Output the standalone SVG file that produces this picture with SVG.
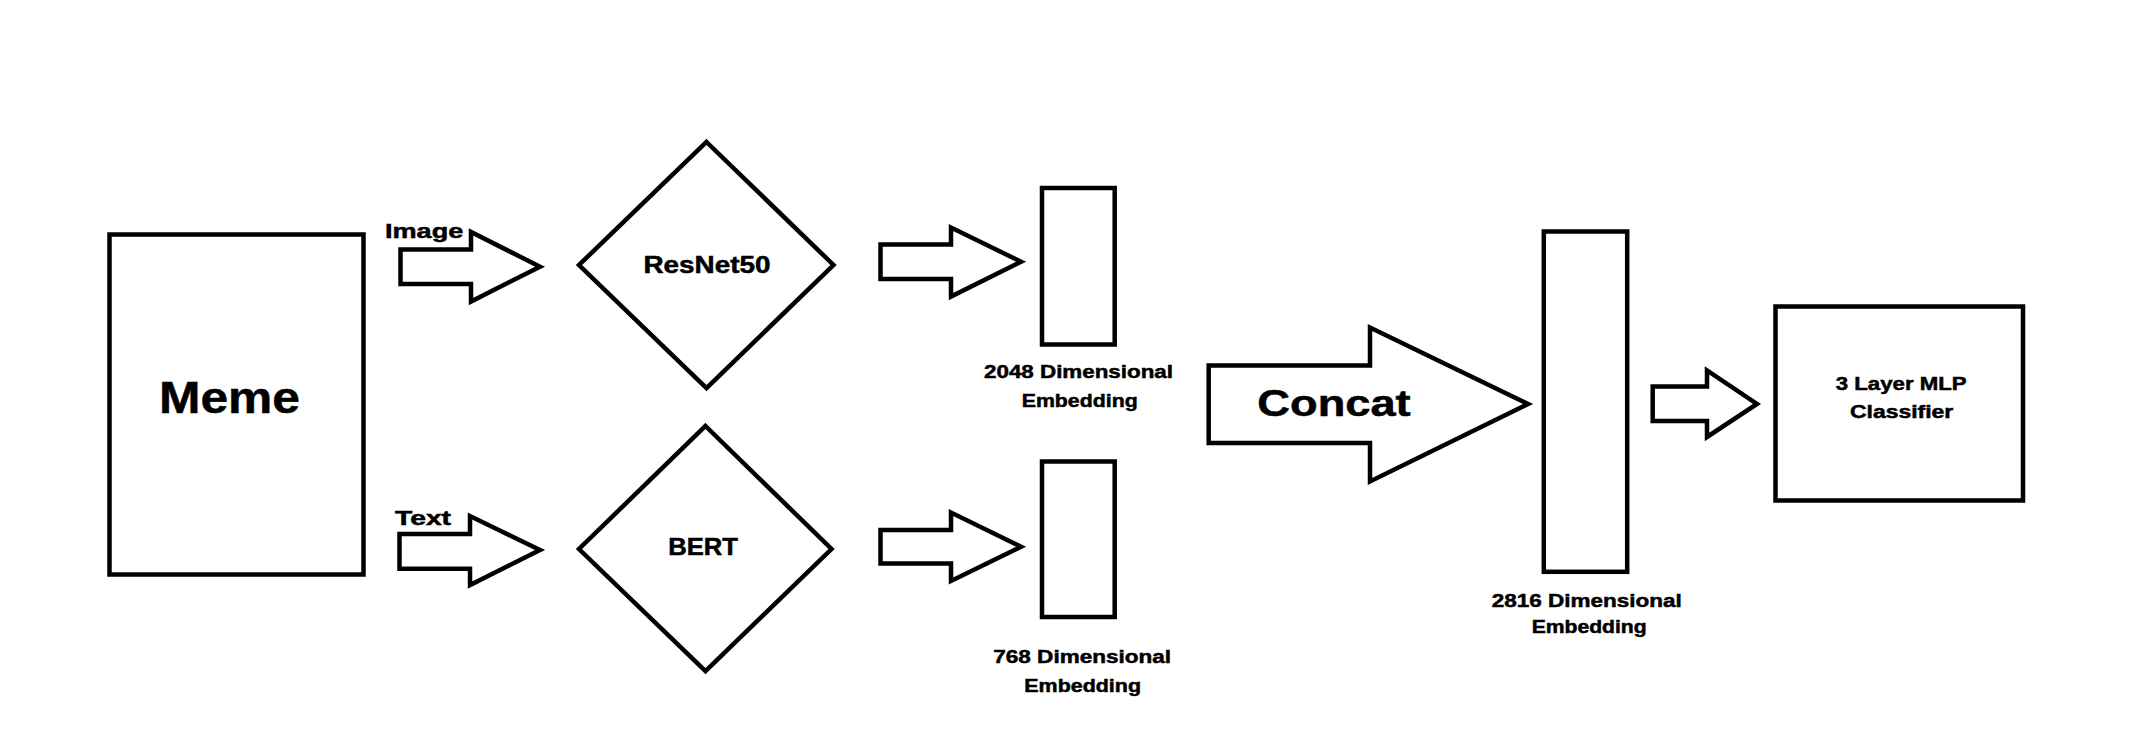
<svg xmlns="http://www.w3.org/2000/svg" width="2140" height="731" viewBox="0 0 2140 731">
<style>
.s{fill:#fff;stroke:#000;stroke-width:4.5;stroke-linejoin:miter}
.t{font-family:"Liberation Sans",Arial,sans-serif;font-weight:bold;fill:#000;stroke:#000;stroke-width:0.5;text-anchor:start}
</style>
<rect x="0" y="0" width="2140" height="731" fill="#fff"/>
<g id="meme">
<rect class="s" x="109.5" y="234.5" width="254" height="340"/>
<text class="t" x="159" y="413.3" font-size="45" textLength="141" lengthAdjust="spacingAndGlyphs">Meme</text>
</g>
<g id="resnet">
<polygon class="s" points="706.5,142 833.5,265 706.5,388 579,265"/>
<text class="t" x="643.5" y="273.3" font-size="23" textLength="127" lengthAdjust="spacingAndGlyphs">ResNet50</text>
</g>
<g id="bert">
<polygon class="s" points="705.5,426 831.5,549 705.5,671 579,549"/>
<text class="t" x="668.3" y="555" font-size="23" textLength="69.7" lengthAdjust="spacingAndGlyphs">BERT</text>
</g>
<g id="emb2048">
<rect class="s" x="1042" y="188" width="72.7" height="156.5"/>
<text class="t" x="984" y="378.3" font-size="18.8" textLength="189" lengthAdjust="spacingAndGlyphs">2048 Dimensional</text>
<text class="t" x="1021.7" y="406.7" font-size="18.8" textLength="116" lengthAdjust="spacingAndGlyphs">Embedding</text>
</g>
<g id="emb768">
<rect class="s" x="1042" y="461.5" width="72.7" height="155.5"/>
<text class="t" x="993.3" y="662.7" font-size="18.8" textLength="177.7" lengthAdjust="spacingAndGlyphs">768 Dimensional</text>
<text class="t" x="1024.3" y="691.7" font-size="18.8" textLength="116.7" lengthAdjust="spacingAndGlyphs">Embedding</text>
</g>
<g id="emb2816">
<rect class="s" x="1543.8" y="231.5" width="83.4" height="340.3"/>
<text class="t" x="1491.7" y="606.7" font-size="18.8" textLength="190" lengthAdjust="spacingAndGlyphs">2816 Dimensional</text>
<text class="t" x="1531.7" y="633.3" font-size="18.8" textLength="115" lengthAdjust="spacingAndGlyphs">Embedding</text>
</g>
<g id="mlp">
<rect class="s" x="1775.5" y="306.5" width="247.5" height="194"/>
<text class="t" x="1835.7" y="390" font-size="18.8" textLength="131" lengthAdjust="spacingAndGlyphs">3 Layer MLP</text>
<text class="t" x="1850" y="417.7" font-size="18.8" textLength="103.3" lengthAdjust="spacingAndGlyphs">Classifier</text>
</g>
<g id="connectors">
<polygon class="s" points="400.5,249.5 471,249.5 471,232 540,266.7 471,301.5 471,284 400.5,284"/>
<text class="t" x="385" y="238.3" font-size="21" textLength="78.3" lengthAdjust="spacingAndGlyphs">Image</text>
<polygon class="s" points="399.5,534 470,534 470,516 540,550 470,585 470,568.7 399.5,568.7"/>
<text class="t" x="395" y="525" font-size="20" textLength="56" lengthAdjust="spacingAndGlyphs">Text</text>
<polygon class="s" points="880.5,244.5 951,244.5 951,227.5 1021,261.7 951,296.5 951,279 880.5,279"/>
<polygon class="s" points="880.5,530 951,530 951,512.5 1021,546.7 951,581 951,563.5 880.5,563.5"/>
<polygon class="s" points="1208.7,365.5 1370,365.5 1370,327.5 1528,404 1370,481.5 1370,443 1208.7,443"/>
<text class="t" x="1257.3" y="415.7" font-size="37" textLength="153.4" lengthAdjust="spacingAndGlyphs">Concat</text>
<polygon class="s" points="1652.7,386.5 1707,386.5 1707,370.5 1757,404 1707,437 1707,421 1652.7,421"/>
</g>
</svg>
